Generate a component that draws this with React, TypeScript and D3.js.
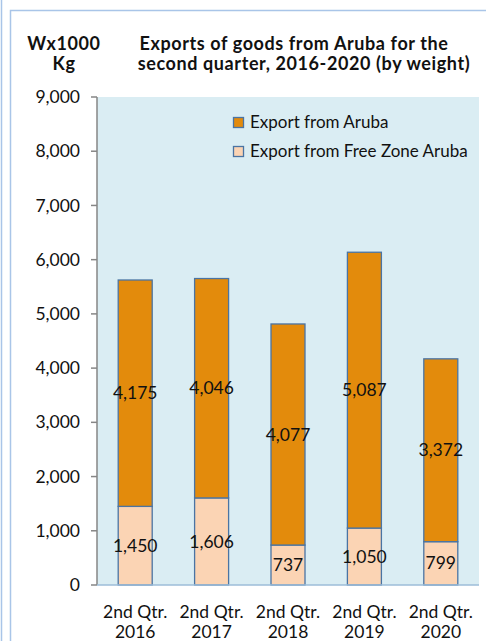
import React from "react";
import { scaleBand, scaleLinear, format } from "d3";

const categories = ["2nd Qtr.|2016", "2nd Qtr.|2017", "2nd Qtr.|2018", "2nd Qtr.|2019", "2nd Qtr.|2020"];
const freeZone = [1450, 1606, 737, 1050, 799];
const aruba = [4175, 4046, 4077, 5087, 3372];
const yTicks = [0, 1000, 2000, 3000, 4000, 5000, 6000, 7000, 8000, 9000];
const seriesNames = ["Export from Aruba", "Export from Free Zone Aruba"];

const width = 486;
const height = 641;
const marginLeft = 97;
const marginRight = 7;
const marginTop = 97;
const plotBottom = 585;

const FONT = "Lato, 'Open Sans', sans-serif";
const ORANGE = "#e38b0c";
const PEACH = "#fbd4b4";
const STROKE = "#4a74a3";
const TXT = 17.5;

const App = () => {
  const x = scaleBand()
    .domain(categories)
    .range([marginLeft, width - marginRight])
    .paddingInner(0.555)
    .paddingOuter(0.2775);
  const y = scaleLinear().domain([0, 9000]).range([plotBottom, marginTop]);
  const fmt = format(",");

  return (
    <svg
      width={width}
      height={height}
      style={{ position: "absolute", left: 0, top: 0, background: "#fff" }}
      fontFamily={FONT}
    >
      {/* frame lines */}
      <line x1={1.5} x2={1.5} y1={0} y2={height} stroke="#a9c5e8" strokeWidth={1.5} />
      <path d={`M10.5,${height} V10.5 H${width}`} fill="none" stroke="#a9c5e8" strokeWidth={1.5} />

      {/* titles */}
      <g fontWeight="bold" fontSize={18} fill="#111" textAnchor="middle" letterSpacing={0.6}>
        <text x={64} y={50}>Wx1000</text>
        <text x={64} y={70}>Kg</text>
        <text x={294} y={50}>Exports of goods from Aruba for the</text>
        <text x={304} y={70}>second quarter, 2016-2020 (by weight)</text>
      </g>

      {/* plot background */}
      <rect
        x={marginLeft}
        y={y(9000)}
        width={width - marginRight - marginLeft}
        height={plotBottom - y(9000)}
        fill="#daedf3"
      />

      {/* bars */}
      {categories.map((c, i) => {
        const bx = x(c)!;
        const bw = x.bandwidth();
        const total = freeZone[i] + aruba[i];
        return (
          <g key={c}>
            <rect
              x={bx}
              y={y(freeZone[i])}
              width={bw}
              height={y(0) - y(freeZone[i])}
              fill={PEACH}
              stroke={STROKE}
              strokeWidth={1.3}
            />
            <rect
              x={bx}
              y={y(total)}
              width={bw}
              height={y(freeZone[i]) - y(total)}
              fill={ORANGE}
              stroke={STROKE}
              strokeWidth={1.3}
            />
            <text
              x={bx + bw / 2}
              y={y(freeZone[i] + aruba[i] / 2)}
              dy="0.35em"
              textAnchor="middle"
              fontSize={TXT}
              fill="#111"
            >
              {fmt(aruba[i])}
            </text>
            <text
              x={bx + bw / 2}
              y={y(freeZone[i] / 2)}
              dy="0.35em"
              textAnchor="middle"
              fontSize={TXT}
              fill="#111"
            >
              {fmt(freeZone[i])}
            </text>
            {c.split("|").map((line, j) => (
              <text
                key={j}
                x={bx + bw / 2}
                y={618 + j * 20}
                textAnchor="middle"
                fontSize={TXT}
                fill="#111"
              >
                {line}
              </text>
            ))}
          </g>
        );
      })}

      {/* y axis */}
      <line x1={marginLeft} x2={marginLeft} y1={y(9000)} y2={y(0)} stroke="#868686" strokeWidth={1.5} />
      <line x1={marginLeft} x2={width - marginRight} y1={y(0)} y2={y(0)} stroke="#9dbcd8" strokeWidth={1.5} />
      {yTicks.map((t) => (
        <g key={t}>
          <line x1={marginLeft - 6} x2={marginLeft} y1={y(t)} y2={y(t)} stroke="#868686" strokeWidth={1.5} />
          <text x={80} y={y(t)} dy="0.35em" textAnchor="end" fontSize={TXT} fill="#111">
            {fmt(t)}
          </text>
        </g>
      ))}

      {/* legend */}
      {seriesNames.map((name, i) => (
        <g key={name} transform={`translate(233, ${117 + i * 29})`}>
          <rect x={0.5} y={0.5} width={10} height={10} fill={i === 0 ? ORANGE : PEACH} stroke={STROKE} strokeWidth={1.3} />
          <text x={17} y={5.5} dy="0.35em" fontSize={17} fill="#111">{name}</text>
        </g>
      ))}
    </svg>
  );
};

export default App;
